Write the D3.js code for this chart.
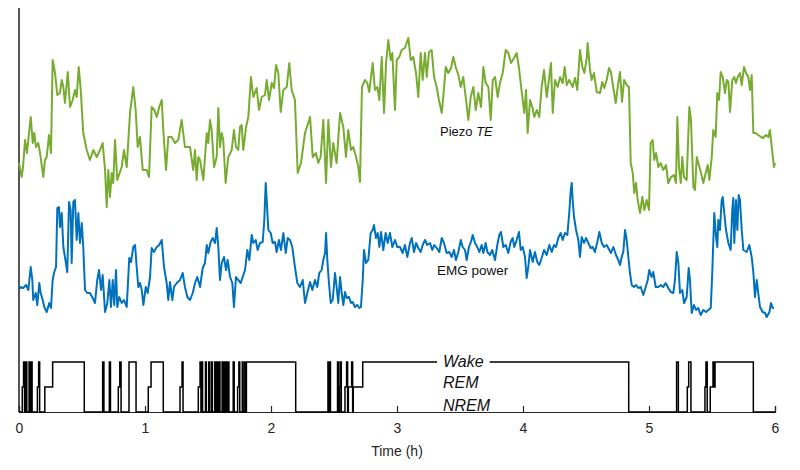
<!DOCTYPE html>
<html>
<head>
<meta charset="utf-8">
<script src="https://d3js.org/d3.v7.min.js"></script>
<style>
  body { margin: 0; background: #fff; }
  svg text { font-family: "Liberation Sans", Arial, sans-serif; }
</style>
</head>
<body>
<div id="divchart"></div>
<script>
// ---- data (time in hours, signal amplitude in arbitrary units) ----
var piezoTime = [0.000,0.021,0.032,0.048,0.063,0.093,0.109,0.121,0.135,0.153,0.167,0.193,0.206,0.220,0.238,0.254,0.267,0.286,0.304,0.325,
  0.339,0.352,0.365,0.387,0.405,0.426,0.444,0.458,0.474,0.490,0.510,0.537,0.563,0.590,0.617,0.643,0.664,0.683,0.696,0.709,
  0.722,0.736,0.748,0.762,0.780,0.815,0.833,0.855,0.881,0.907,0.926,0.942,0.960,0.982,1.013,1.032,1.053,1.074,1.093,1.113,
  1.133,1.145,1.167,1.185,1.212,1.238,1.264,1.291,1.317,1.344,1.357,1.383,1.397,1.410,1.423,1.437,1.463,1.490,1.502,1.516,
  1.529,1.548,1.569,1.582,1.595,1.609,1.621,1.640,1.661,1.688,1.706,1.722,1.740,1.754,1.767,1.780,1.802,1.820,1.841,1.860,
  1.886,1.905,1.926,1.952,1.966,1.984,2.006,2.024,2.040,2.058,2.077,2.098,2.125,2.145,2.164,2.190,2.212,2.238,2.270,2.310,
  2.331,2.357,2.375,2.394,2.415,2.437,2.455,2.476,2.494,2.521,2.548,2.574,2.595,2.613,2.635,2.653,2.675,2.693,2.706,2.722,
  2.746,2.764,2.780,2.807,2.825,2.844,2.860,2.879,2.897,2.913,2.931,2.950,2.963,2.984,2.998,3.018,3.037,3.063,3.090,3.109,
  3.129,3.151,3.169,3.188,3.204,3.222,3.236,3.254,3.275,3.294,3.315,3.333,3.355,3.367,3.387,3.407,3.429,3.447,3.466,3.487,
  3.506,3.526,3.548,3.566,3.585,3.606,3.625,3.645,3.667,3.685,3.704,3.725,3.744,3.760,3.778,3.799,3.817,3.839,3.863,3.883,
  3.905,3.929,3.950,3.968,3.990,4.010,4.024,4.037,4.056,4.074,4.090,4.109,4.129,4.148,4.167,4.188,4.206,4.222,4.236,4.254,
  4.275,4.294,4.315,4.331,4.347,4.367,4.394,4.413,4.431,4.452,4.471,4.487,4.506,4.513,4.532,4.545,4.563,4.585,4.611,4.629,
  4.645,4.664,4.683,4.698,4.717,4.736,4.756,4.770,4.786,4.802,4.823,4.841,4.855,4.871,4.883,4.897,4.910,4.929,4.947,4.963,
  4.982,5.000,5.013,5.029,5.042,5.056,5.074,5.093,5.113,5.135,5.153,5.175,5.198,5.214,5.225,5.238,5.252,5.264,5.278,5.299,
  5.320,5.333,5.352,5.365,5.379,5.391,5.413,5.431,5.450,5.466,5.479,5.498,5.510,5.529,5.542,5.556,5.569,5.585,5.603,5.617,
  5.630,5.643,5.661,5.677,5.690,5.704,5.722,5.736,5.754,5.770,5.788,5.802,5.815,5.828,5.847,5.867,5.889,5.907,5.929,5.947,
  5.960,5.974,5.992,6.000];
var piezoTE = [249,235,245,272,259,295,269,279,265,269,259,235,252,255,277,259,352,339,317,319,
  332,325,309,340,305,312,322,315,345,322,279,262,252,262,255,262,269,242,205,242,
  215,239,229,272,232,245,262,245,299,325,302,265,275,242,242,235,305,302,295,305,
  312,282,242,275,275,269,272,292,265,265,265,242,262,232,255,252,232,279,269,292,
  282,245,255,304,265,279,272,229,255,262,282,265,262,285,287,262,285,295,335,315,
  324,302,315,317,332,312,329,324,347,339,300,322,325,349,322,312,239,249,279,295,
  255,259,249,255,292,229,292,245,269,249,299,285,255,282,262,265,255,245,230,325,
  332,329,320,349,322,325,312,355,299,349,372,352,359,302,352,355,362,364,374,352,
  355,339,315,359,332,359,335,360,362,335,325,312,299,315,345,339,344,355,345,337,
  325,335,312,292,315,325,302,319,305,345,329,325,292,332,335,315,329,339,362,359,
  349,354,359,344,320,299,322,279,312,305,295,302,295,325,342,315,332,349,299,332,
  325,335,329,345,327,332,325,334,322,362,345,339,354,369,342,332,339,320,319,330,
  324,332,344,340,324,309,329,340,310,332,327,325,249,239,219,229,212,199,215,202,
  212,202,269,272,252,259,245,249,242,247,229,235,237,229,295,245,229,255,235,232,
  305,292,225,222,255,249,239,229,239,247,232,255,282,275,319,312,340,335,319,332,
  330,300,332,335,329,335,339,327,345,339,335,322,337,279,279,277,275,274,277,275,
  282,265,245,249];

var emgTime = [0.000,0.008,0.034,0.056,0.074,0.093,0.106,0.113,0.133,0.145,0.161,0.172,0.188,0.201,0.220,0.240,0.254,0.267,0.280,0.294,
  0.304,0.317,0.325,0.339,0.352,0.371,0.383,0.397,0.410,0.418,0.431,0.444,0.458,0.471,0.484,0.498,0.510,0.524,0.542,0.563,
  0.585,0.603,0.621,0.635,0.651,0.664,0.683,0.701,0.717,0.730,0.744,0.756,0.770,0.780,0.796,0.815,0.833,0.855,0.875,0.889,
  0.907,0.921,0.934,0.947,0.960,0.974,0.987,1.006,1.021,1.040,1.053,1.071,1.093,1.113,1.133,1.151,1.172,1.185,1.198,1.217,
  1.230,1.252,1.278,1.299,1.317,1.336,1.357,1.379,1.397,1.415,1.437,1.458,1.476,1.490,1.502,1.521,1.537,1.556,1.569,1.582,
  1.595,1.609,1.627,1.643,1.656,1.675,1.693,1.706,1.722,1.740,1.760,1.775,1.794,1.812,1.828,1.847,1.860,1.879,1.894,1.913,
  1.934,1.947,1.958,1.966,1.979,1.998,2.013,2.032,2.045,2.063,2.079,2.098,2.117,2.133,2.151,2.169,2.190,2.209,2.230,2.252,
  2.270,2.288,2.310,2.328,2.349,2.367,2.383,2.402,2.415,2.429,2.437,2.447,2.460,2.474,2.490,2.508,2.521,2.534,2.548,2.561,
  2.574,2.587,2.601,2.619,2.635,2.648,2.667,2.685,2.701,2.714,2.728,2.738,2.754,2.772,2.791,2.807,2.817,2.833,2.847,2.860,
  2.873,2.891,2.910,2.926,2.944,2.963,2.984,3.002,3.024,3.045,3.063,3.082,3.103,3.117,3.135,3.151,3.169,3.188,3.204,3.222,
  3.240,3.262,3.280,3.296,3.315,3.336,3.355,3.373,3.394,3.415,3.434,3.452,3.468,3.487,3.506,3.521,3.540,3.553,3.571,3.587,
  3.601,3.619,3.637,3.653,3.672,3.685,3.704,3.717,3.738,3.756,3.778,3.796,3.812,3.825,3.844,3.863,3.883,3.902,3.918,3.931,
  3.950,3.968,3.982,3.998,4.016,4.029,4.042,4.056,4.077,4.095,4.113,4.129,4.148,4.167,4.188,4.209,4.228,4.246,4.262,4.280,
  4.299,4.315,4.333,4.352,4.367,4.379,4.387,4.394,4.405,4.421,4.439,4.452,4.466,4.484,4.500,4.518,4.537,4.553,4.571,4.590,
  4.606,4.625,4.643,4.664,4.685,4.698,4.717,4.738,4.756,4.770,4.783,4.796,4.810,4.823,4.836,4.849,4.863,4.881,4.897,4.915,
  4.934,4.955,4.974,4.990,5.002,5.021,5.034,5.053,5.074,5.095,5.113,5.132,5.153,5.172,5.193,5.206,5.220,5.233,5.246,5.264,
  5.278,5.299,5.315,5.325,5.339,5.357,5.373,5.391,5.410,5.431,5.452,5.471,5.490,5.502,5.518,5.532,5.542,5.550,5.563,5.577,
  5.585,5.595,5.611,5.630,5.648,5.661,5.669,5.677,5.690,5.701,5.712,5.722,5.736,5.749,5.775,5.796,5.815,5.828,5.841,5.855,
  5.867,5.881,5.902,5.921,5.934,5.956,5.968,5.982,5.992];
var emgPower = [122,125,124,127,122,145,132,112,119,107,129,119,112,105,100,109,104,132,140,145,
  204,205,185,199,165,150,140,210,202,149,210,212,172,199,169,189,165,122,119,119,
  114,109,132,142,122,137,100,109,132,105,132,107,142,105,115,109,112,105,154,150,
  165,167,145,125,129,122,107,125,119,135,164,160,165,167,172,145,129,112,130,112,
  125,129,132,139,125,115,112,119,129,135,125,144,149,167,159,170,174,169,184,165,
  132,149,155,142,152,135,129,105,135,132,129,135,142,162,152,177,169,172,162,169,
  170,192,229,212,182,179,169,170,160,172,162,179,159,174,172,165,145,129,125,132,
  109,119,130,122,132,125,139,142,152,159,179,152,129,109,112,139,125,109,135,119,
  107,120,114,115,109,110,105,107,104,105,132,162,149,152,179,182,187,174,179,165,
  180,162,179,169,179,165,172,165,165,159,167,155,169,174,160,169,164,160,167,172,
  167,169,162,167,164,160,174,169,159,160,155,162,152,160,172,165,162,152,165,170,
  177,169,165,160,167,159,169,160,157,162,152,167,177,180,165,167,159,170,174,165,
  172,180,162,165,155,134,145,162,150,160,150,147,154,162,157,167,160,167,165,174,
  179,172,179,177,199,222,229,212,195,182,172,155,175,169,174,169,164,165,160,170,
  180,169,165,167,162,159,165,157,152,147,155,160,182,172,155,139,127,125,127,124,
  125,117,125,132,142,135,140,125,125,127,125,129,124,120,119,132,160,149,119,122,
  109,115,144,132,99,107,102,104,97,102,100,102,104,139,199,175,165,192,182,212,
  215,202,182,169,162,202,214,169,212,182,217,212,182,162,160,167,155,140,115,132,
  119,105,100,99,95,100,109,104,104];

// hypnogram: state starting at each time, 0 = NREM, 1 = REM, 2 = Wake
var hypTime = [0.000,0.026,0.036,0.044,0.054,0.062,0.080,0.088,0.096,0.104,0.146,0.156,0.164,0.205,0.267,
  0.518,0.664,0.674,0.717,0.726,0.788,0.800,0.810,0.873,0.929,1.026,1.048,1.145,1.278,1.294,1.302,1.423,1.437,1.444,
  1.450,1.457,1.480,1.487,1.506,1.513,1.528,1.535,1.554,1.561,1.573,1.580,1.588,1.595,1.612,1.617,1.624,1.629,
  1.636,1.641,1.648,1.653,1.660,1.666,1.700,1.708,1.735,1.745,1.752,1.772,1.779,1.792,1.798,1.805,
  2.196,2.452,2.460,2.465,2.472,2.528,2.536,2.545,2.550,2.558,2.587,2.600,2.608,2.614,2.640,2.648,2.653,2.728,4.839,
  5.219,5.233,5.304,5.315,5.333,5.444,5.452,5.462,5.486,5.508,5.516,5.524,5.828,6.000];
var hypState = [0,1,2,0,2,0,2,0,2,0,1,2,0,1,2,
  0,2,0,2,0,1,2,0,2,0,1,2,0,1,2,0,1,2,0,
  2,0,2,0,2,0,2,0,2,0,2,0,2,0,2,0,2,0,
  2,0,2,0,2,0,2,0,1,2,0,2,0,2,0,2,
  0,2,0,2,0,2,0,1,2,0,1,2,0,1,2,0,1,2,0,
  2,0,1,2,0,1,2,0,1,2,1,2,0,0];
var stateNames = ["NREM", "REM", "Wake"];
var hourTicks = [0, 1, 2, 3, 4, 5, 6];

// set the dimensions and margins of the graph
var margin = { top: 8, right: 25, bottom: 58, left: 19 },
    width = 800 - margin.left - margin.right,
    height = 470 - margin.top - margin.bottom;

var svg = d3.select("#divchart")
    .append("svg")
    .attr("width", 800)
    .attr("height", 470)
    .append("g")
    .attr("transform", "translate(" + margin.left + "," + margin.top + ")");

var x = d3.scaleLinear().domain([0, 6]).range([0, width]);
// one amplitude scale shared by both traces (a.u.)
var y = d3.scaleLinear().domain([0, 404]).range([height, 0]);
// hypnogram levels
var yHyp = d3.scaleLinear().domain([0, 2]).range([height, height - 50]);

//////////
// AXIS //
//////////
svg.append("line")
    .attr("x1", 0).attr("x2", 0)
    .attr("y1", 0).attr("y2", height)
    .attr("stroke", "#555")
    .attr("stroke-width", 2);

var xAxis = svg.append("g")
    .attr("transform", "translate(0," + height + ")")
    .call(d3.axisBottom(x).tickValues(hourTicks).tickSize(-6).tickPadding(11).tickFormat(d3.format("d")));
xAxis.select(".domain").attr("stroke", "#262626").attr("stroke-width", 1.2);
xAxis.selectAll(".tick line").attr("stroke", "#262626").attr("stroke-width", 1.2);
xAxis.selectAll(".tick text")
    .attr("fill", "#262626")
    .style("font-size", "14px")
    .style("font-family", "'Liberation Sans', Arial, sans-serif");

svg.append("text")
    .attr("x", x(3))
    .attr("y", height + 44)
    .attr("text-anchor", "middle")
    .attr("fill", "#262626")
    .style("font-size", "14px")
    .text("Time (h)");

////////////
// TRACES //
////////////
var piezoData = piezoTime.map(function (t, i) { return { t: t, v: piezoTE[i] }; });
var emgData = emgTime.map(function (t, i) { return { t: t, v: emgPower[i] }; });
var hypData = hypTime.map(function (t, i) { return { t: t, s: hypState[i] }; });

var line = d3.line()
    .x(function (d) { return x(d.t); })
    .y(function (d) { return y(d.v); });

svg.append("path")
    .datum(piezoData)
    .attr("fill", "none")
    .attr("stroke", "#77AC30")
    .attr("stroke-width", 2)
    .attr("stroke-linejoin", "round")
    .attr("d", line);

svg.append("path")
    .datum(emgData)
    .attr("fill", "none")
    .attr("stroke", "#0072BD")
    .attr("stroke-width", 2)
    .attr("stroke-linejoin", "round")
    .attr("d", line);

var hypLine = d3.line()
    .curve(d3.curveStepAfter)
    .x(function (d) { return x(d.t); })
    .y(function (d) { return yHyp(d.s); });

svg.append("path")
    .datum(hypData)
    .attr("fill", "none")
    .attr("stroke", "#000")
    .attr("stroke-width", 1.5)
    .attr("d", hypLine);

////////////
// LABELS //
////////////
svg.append("text")
    .attr("x", 421)
    .attr("y", 128)
    .attr("fill", "#111")
    .style("font-size", "13px")
    .html("Piezo <tspan font-style='italic'>TE</tspan>");

svg.append("text")
    .attr("x", 418)
    .attr("y", 267)
    .attr("fill", "#111")
    .style("font-size", "13.5px")
    .text("EMG power");

// state labels, Wake sits on a white box that cuts the line
var stateLabels = svg.append("g");
stateNames.forEach(function (name, i) {
    var ty = yHyp(i) + (i == 0 ? -1 : (i == 1 ? 1 : 5));
    var txt = stateLabels.append("text")
        .attr("x", 424)
        .attr("y", ty)
        .attr("fill", "#111")
        .style("font-size", "16px")
        .style("font-style", "italic")
        .text(name);
    if (i == 2) {
        var bb = txt.node().getBBox();
        stateLabels.insert("rect", "text")
            .attr("x", bb.x - 6)
            .attr("y", bb.y)
            .attr("width", bb.width + 12)
            .attr("height", bb.height)
            .attr("fill", "#fff");
    }
});
</script>
</body>
</html>
